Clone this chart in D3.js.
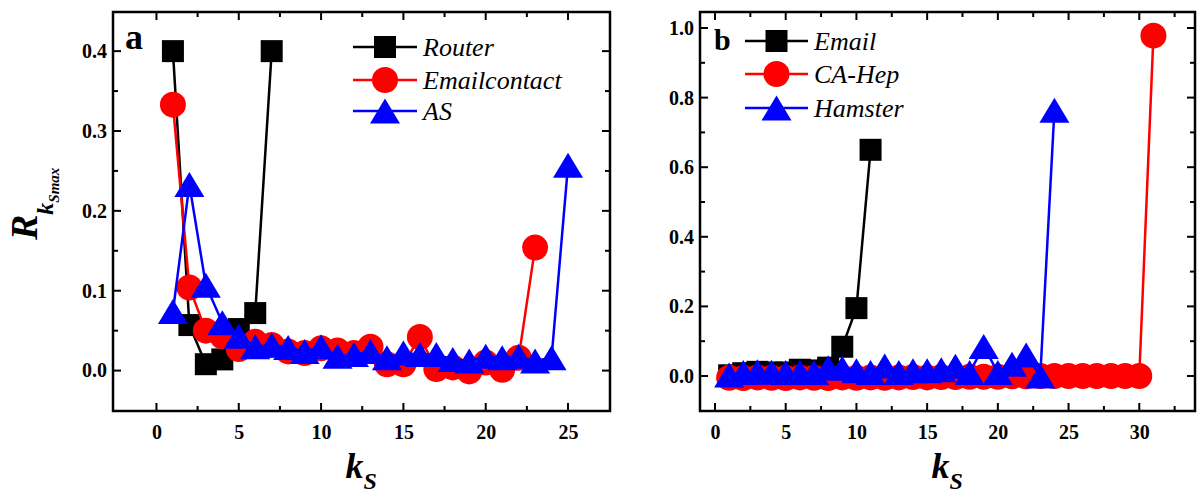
<!DOCTYPE html>
<html><head><meta charset="utf-8">
<script src="https://cdn.jsdelivr.net/npm/d3@7"></script>
<style>
body{margin:0;background:#fff;}
svg{display:block;}
svg text{font-family:"Liberation Serif","Tinos","Times New Roman","Times","DejaVu Serif",serif !important;}
</style></head>
<body><svg id="c" width="1200" height="496"></svg>
<script>
// Panel a data
const kRouter = [1,2,3,4,5,6,7];
const router = [0.400, 0.057, 0.008, 0.014, 0.052, 0.072, 0.400];
const kEmailcontact = [1,2,3,4,5,6,7,8,9,10,11,12,13,14,15,16,17,18,19,20,21,22,23];
const emailcontact = [0.333, 0.104, 0.050, 0.043, 0.027, 0.036, 0.032, 0.024, 0.022, 0.028, 0.025, 0.022, 0.030, 0.008, 0.008, 0.042, 0.002, 0.004, -0.001, 0.010, 0.001, 0.016, 0.154];
const kAS = [1,2,3,4,5,6,7,8,9,10,11,12,13,14,15,16,17,18,19,20,21,22,23,24,25];
const asVals = [0.074, 0.233, 0.107, 0.060, 0.043, 0.030, 0.032, 0.029, 0.024, 0.030, 0.018, 0.020, 0.024, 0.016, 0.022, 0.020, 0.020, 0.014, 0.012, 0.018, 0.016, 0.018, 0.012, 0.016, 0.257];
// Panel b data
const kEmail = [1,2,3,4,5,6,7,8,9,10,11];
const email = [0.002, 0.008, 0.012, 0.010, 0.010, 0.018, 0.016, 0.024, 0.084, 0.195, 0.650];
const kCAHep = [1,2,3,4,5,6,7,8,9,10,11,12,13,14,15,16,17,18,19,20,21,22,23,24,25,26,27,28,29,30,31];
const caHep = [-0.005, -0.006, -0.004, -0.005, -0.006, -0.004, -0.005, -0.006, -0.004, -0.005, -0.004, -0.005, -0.004, -0.003, -0.004, -0.003, -0.003, -0.002, -0.002, -0.002, -0.001, -0.001, 0.000, 0.000, 0.000, 0.000, 0.000, 0.000, 0.000, 0.000, 0.978];
const kHamster = [1,2,3,4,5,6,7,8,9,10,11,12,13,14,15,16,17,18,19,20,21,22,23,24];
const hamster = [0.003, 0.010, 0.012, 0.011, 0.010, 0.011, 0.010, 0.024, 0.022, 0.015, 0.010, 0.029, 0.010, 0.015, 0.015, 0.018, 0.028, 0.010, 0.085, 0.010, 0.034, 0.060, 0.000, 0.764];

const xTicksA = [0,5,10,15,20,25];
const yTicksA = [0.0,0.1,0.2,0.3,0.4];
const xTicksB = [0,5,10,15,20,25,30];
const yTicksB = [0.0,0.2,0.4,0.6,0.8,1.0];

const svg = d3.select("#c");

const sym = {
  square: "M-11,-11H11V11H-11Z",
  circle: d3.symbol().type(d3.symbolCircle).size(Math.PI*13*13)(),
  triangle: "M0,-12.5L15,12.5L-15,12.5Z"
};

function panel(opt){
  const g = svg.append("g");
  const x = d3.scaleLinear().domain(opt.xd).range([opt.l, opt.r]);
  const y = d3.scaleLinear().domain(opt.yd).range([opt.b, opt.t]);
  const clipId = "clip"+opt.name;
  svg.append("clipPath").attr("id", clipId).append("rect")
    .attr("x", opt.l).attr("y", opt.t).attr("width", opt.r-opt.l).attr("height", opt.b-opt.t);

  const tk = g.append("g").attr("stroke","#000").attr("stroke-width",2);
  const within = (v,sc)=>{const p=sc(v); return p>Math.min(...sc.range())+3 && p<Math.max(...sc.range())-3;};
  opt.xMajor.forEach(v=>{
    tk.append("line").attr("x1",x(v)).attr("x2",x(v)).attr("y1",opt.b).attr("y2",opt.b-8);
    tk.append("line").attr("x1",x(v)).attr("x2",x(v)).attr("y1",opt.t).attr("y2",opt.t+8);
  });
  opt.xMinor.filter(v=>within(v,x)).forEach(v=>{
    tk.append("line").attr("x1",x(v)).attr("x2",x(v)).attr("y1",opt.b).attr("y2",opt.b-5);
    tk.append("line").attr("x1",x(v)).attr("x2",x(v)).attr("y1",opt.t).attr("y2",opt.t+5);
  });
  opt.yMajor.forEach(v=>{
    tk.append("line").attr("y1",y(v)).attr("y2",y(v)).attr("x1",opt.l).attr("x2",opt.l+8);
    tk.append("line").attr("y1",y(v)).attr("y2",y(v)).attr("x1",opt.r).attr("x2",opt.r-8);
  });
  opt.yMinor.filter(v=>within(v,y)).forEach(v=>{
    tk.append("line").attr("y1",y(v)).attr("y2",y(v)).attr("x1",opt.l).attr("x2",opt.l+5);
    tk.append("line").attr("y1",y(v)).attr("y2",y(v)).attr("x1",opt.r).attr("x2",opt.r-5);
  });

  const xa = g.append("g").attr("transform",`translate(0,${opt.b})`)
    .call(d3.axisBottom(x).tickValues(opt.xMajor).tickSize(0).tickPadding(14).tickFormat(d3.format("d")));
  const ya = g.append("g").attr("transform",`translate(${opt.l},0)`)
    .call(d3.axisLeft(y).tickValues(opt.yMajor).tickSize(0).tickPadding(6).tickFormat(d3.format(".1f")));
  [xa,ya].forEach(a=>{
    a.attr("font-family",null);
    a.select(".domain").remove();
    a.selectAll("text").attr("font-weight","bold").attr("font-size",20).attr("fill","#000");
  });

  const plot = g.append("g").attr("clip-path",`url(#${clipId})`);
  opt.series.forEach(s=>{
    const pts = s.k.map((k,i)=>[k,s.v[i]]);
    plot.append("path").datum(pts)
      .attr("d", d3.line().x(d=>x(d[0])).y(d=>y(d[1])))
      .attr("fill","none").attr("stroke",s.color).attr("stroke-width",2.5);
    plot.selectAll(null).data(pts).enter().append("path")
      .attr("d", sym[s.shape])
      .attr("transform", d=>`translate(${x(d[0])},${y(d[1])})`)
      .attr("fill", s.color);
  });

  g.append("rect").attr("x",opt.l).attr("y",opt.t).attr("width",opt.r-opt.l).attr("height",opt.b-opt.t)
    .attr("fill","none").attr("stroke","#000").attr("stroke-width",2.5);

  g.append("text").attr("x",opt.letterX).attr("y",opt.letterY).attr("font-weight","bold")
    .attr("font-size",opt.letterSize).text(opt.name);

  opt.series.forEach((s,i)=>{
    const yy = opt.legY[i];
    g.append("line").attr("x1",opt.legX0).attr("x2",opt.legX1).attr("y1",yy).attr("y2",yy)
      .attr("stroke",s.color).attr("stroke-width",2.5);
    g.append("path").attr("d",sym[s.shape]).attr("fill",s.color)
      .attr("transform",`translate(${(opt.legX0+opt.legX1)/2},${yy})`);
    g.append("text").attr("x",opt.legX1+6).attr("y",yy+9).attr("font-style","italic")
      .attr("font-size",26).text(s.label);
  });

  const xt = g.append("text").attr("x",(opt.l+opt.r)/2-16).attr("y",478)
    .attr("font-weight","bold").attr("font-style","italic");
  xt.append("tspan").attr("font-size",36).text("k");
  xt.append("tspan").attr("font-size",24).attr("dy",11).text("S");
  return {x,y};
}

panel({
  name:"a", l:113, r:610, t:12, b:411,
  xd:[-2.64,27.55], yd:[-0.0506,0.449],
  xMajor:xTicksA, xMinor:[2.5,7.5,12.5,17.5,22.5,27.5],
  yMajor:yTicksA, yMinor:[0.05,0.15,0.25,0.35],
  letterX:125, letterY:49, letterSize:36,
  legX0:353, legX1:417, legY:[47,80,111],
  series:[
    {label:"Router", k:kRouter, v:router, color:"#000000", shape:"square"},
    {label:"Emailcontact", k:kEmailcontact, v:emailcontact, color:"#ff0000", shape:"circle"},
    {label:"AS", k:kAS, v:asVals, color:"#0000ff", shape:"triangle"}
  ]
});

panel({
  name:"b", l:700, r:1195, t:12, b:411,
  xd:[-1.06,33.94], yd:[-0.1006,1.046],
  xMajor:xTicksB, xMinor:[2.5,7.5,12.5,17.5,22.5,27.5,32.5],
  yMajor:yTicksB, yMinor:[0.1,0.3,0.5,0.7,0.9],
  letterX:714, letterY:50, letterSize:30,
  legX0:745, legX1:808, legY:[41,74,108],
  series:[
    {label:"Email", k:kEmail, v:email, color:"#000000", shape:"square"},
    {label:"CA-Hep", k:kCAHep, v:caHep, color:"#ff0000", shape:"circle"},
    {label:"Hamster", k:kHamster, v:hamster, color:"#0000ff", shape:"triangle"}
  ]
});

const yt = svg.append("text").attr("transform","translate(37,240) rotate(-90)")
  .attr("font-weight","bold").attr("font-style","italic");
yt.append("tspan").attr("font-size",38).text("R");
yt.append("tspan").attr("font-size",24).attr("dy",16).text("k");
yt.append("tspan").attr("font-size",15).attr("dy",6).text("Smax");
</script></body></html>
